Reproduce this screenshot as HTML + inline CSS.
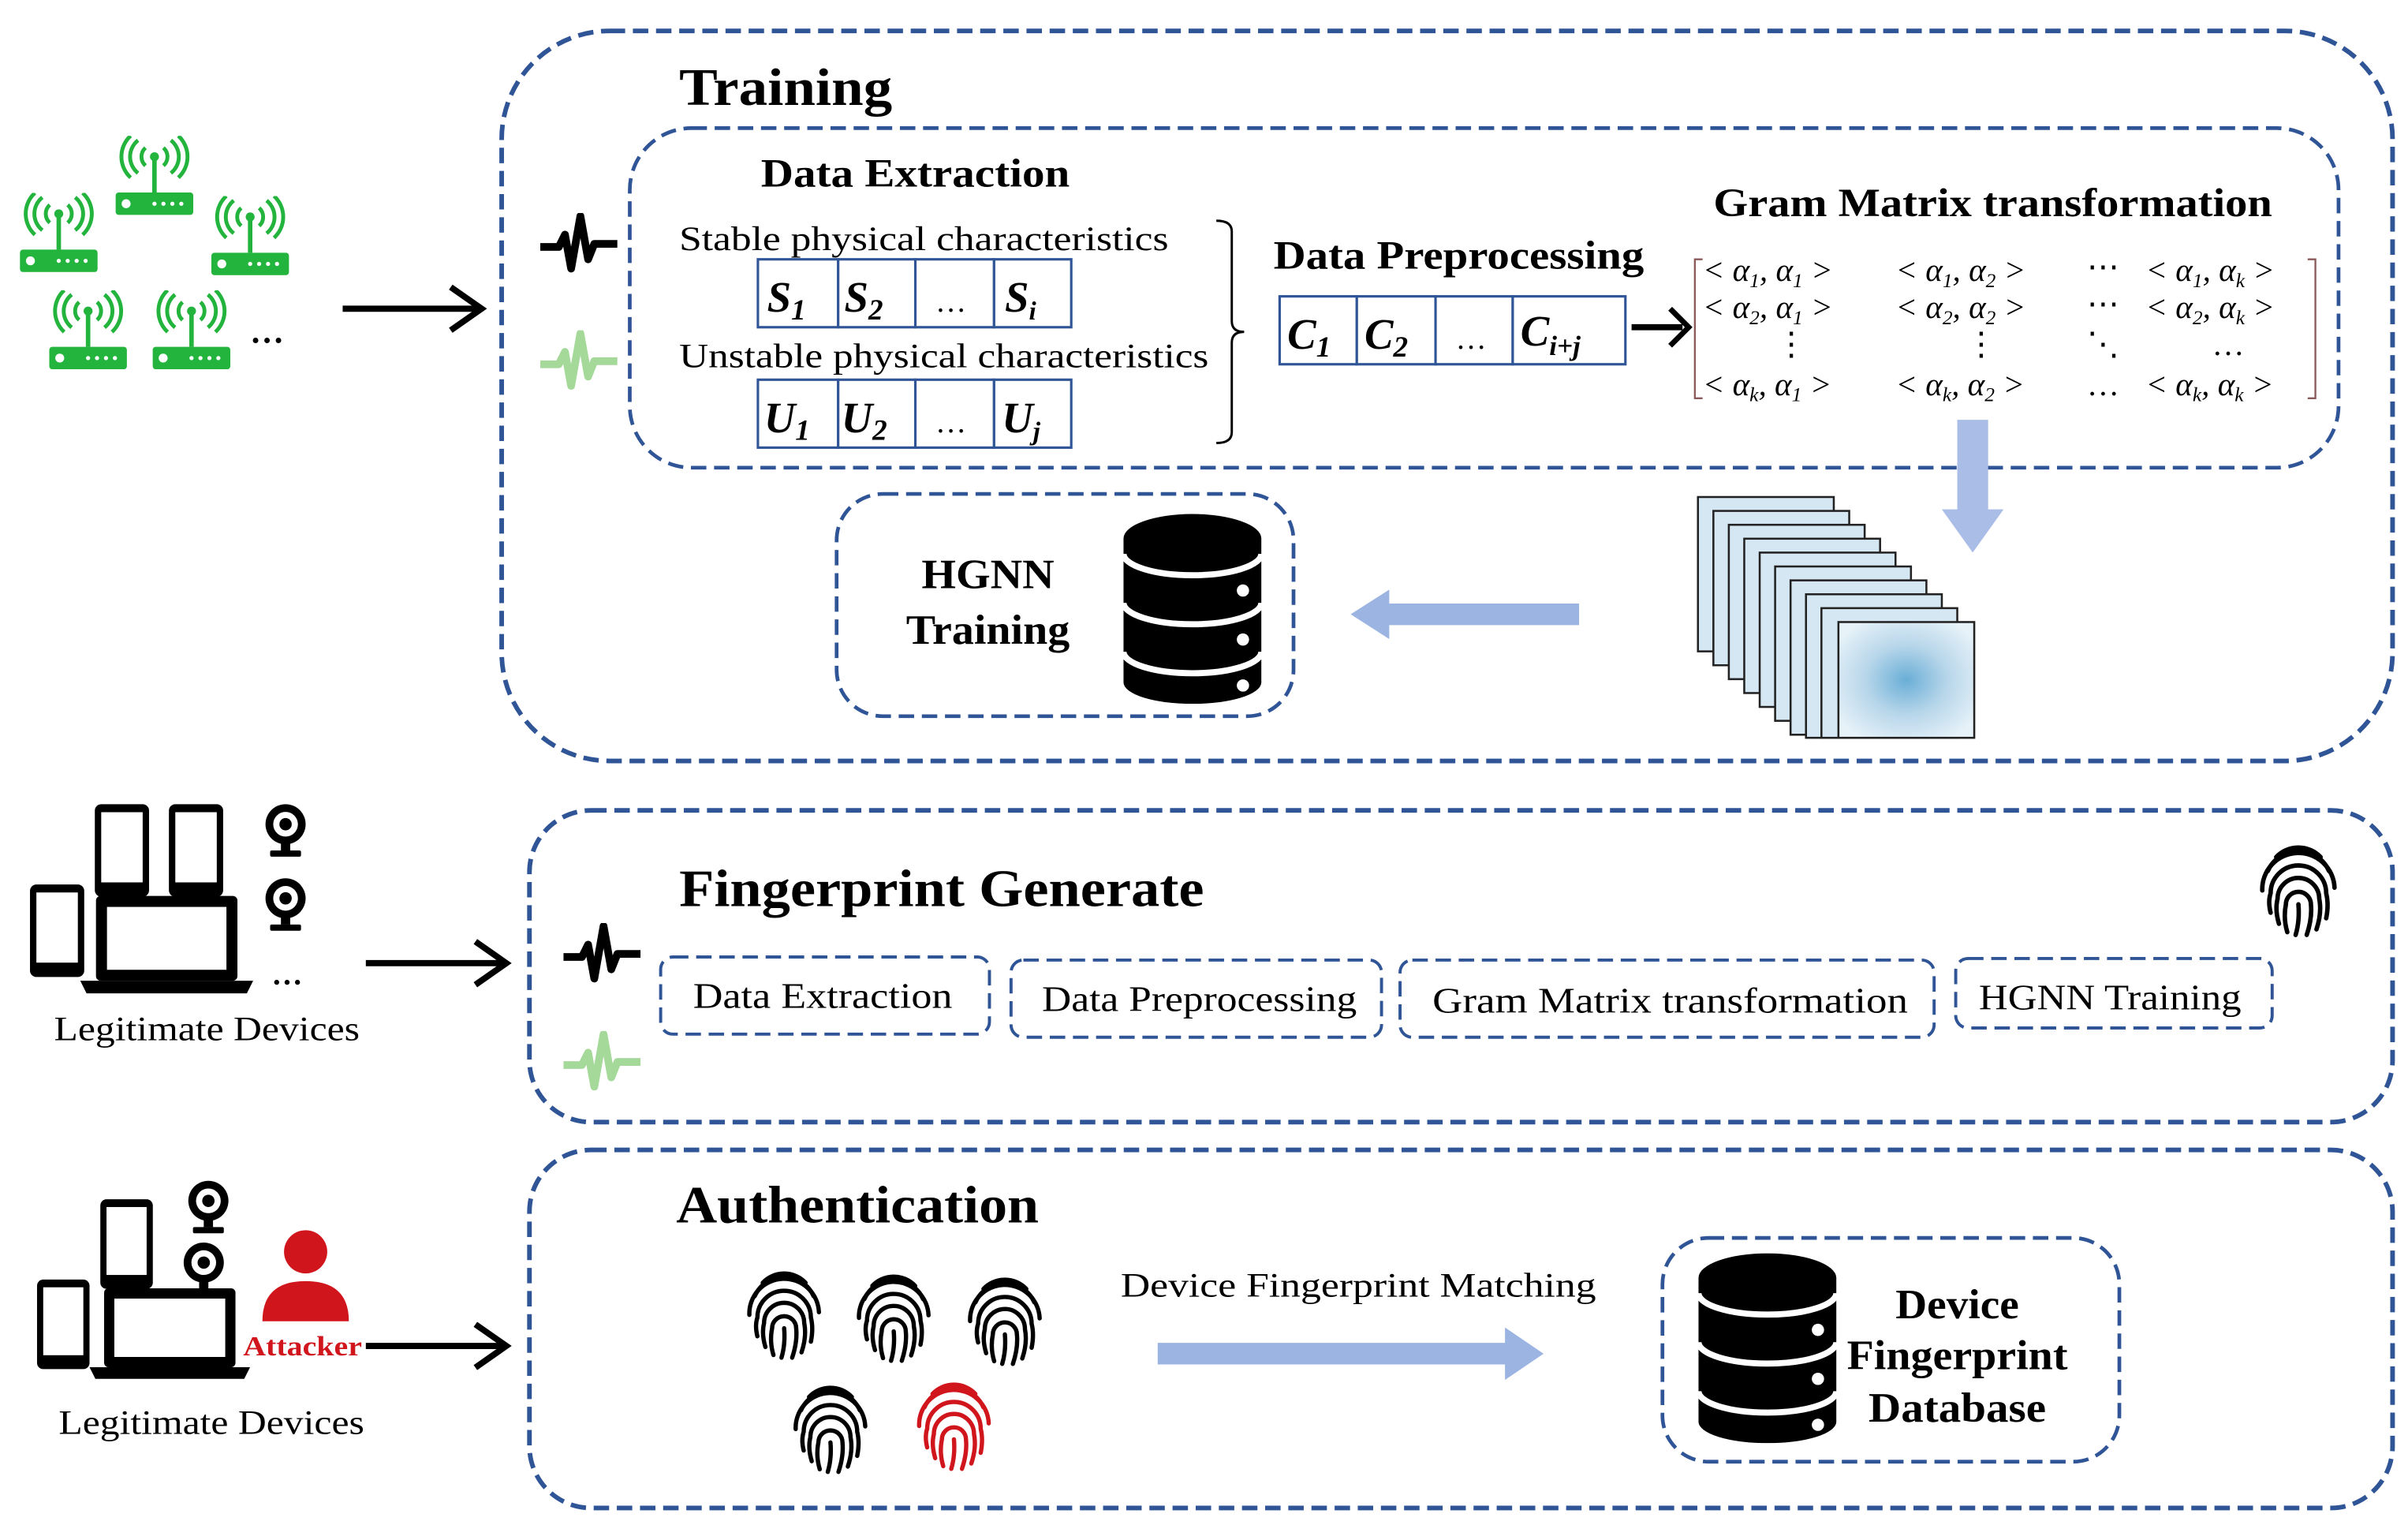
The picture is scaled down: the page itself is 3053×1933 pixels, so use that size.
<!DOCTYPE html>
<html><head><meta charset="utf-8"><style>
html,body{margin:0;padding:0;background:#fff}
svg{display:block}
text{font-family:"Liberation Serif",serif;fill:#000}
.b{font-weight:bold}
.box{fill:none;stroke:#2f5597;stroke-dasharray:10 5}
.cell{fill:#fff;stroke:#2f5597;stroke-width:1.6}
.it{font-style:italic;font-weight:bold}
</style></head><body>
<svg width="3053" height="1933" viewBox="0 0 1560 988" preserveAspectRatio="none" xmlns="http://www.w3.org/2000/svg">
<defs>
<symbol id="router" viewBox="0 0 60 60">
  <rect x="2" y="38" width="52" height="15" rx="2" fill="#22b43c"/>
  <circle cx="9" cy="45.5" r="3" fill="#fff"/>
  <circle cx="28" cy="45.5" r="1.4" fill="#fff"/><circle cx="34" cy="45.5" r="1.4" fill="#fff"/><circle cx="40" cy="45.5" r="1.4" fill="#fff"/><circle cx="46" cy="45.5" r="1.4" fill="#fff"/>
  <line x1="28" y1="16" x2="28" y2="38" stroke="#22b43c" stroke-width="3"/>
  <circle cx="28" cy="14" r="3" fill="#22b43c"/>
  <g fill="none" stroke="#22b43c" stroke-width="2.6">
   <path d="M22 8 A8 8 0 0 0 22 20"/><path d="M34 8 A8 8 0 0 1 34 20"/>
   <path d="M17 3 A14 14 0 0 0 17 25"/><path d="M39 3 A14 14 0 0 1 39 25"/>
   <path d="M12 0 A19 19 0 0 0 12 28"/><path d="M44 0 A19 19 0 0 1 44 28"/>
  </g>
</symbol>
<symbol id="db" viewBox="0 0 90 124">
  <ellipse cx="45" cy="16" rx="45" ry="16" fill="#000"/>
  <rect x="0" y="16" width="90" height="94" fill="#000"/>
  <ellipse cx="45" cy="110" rx="45" ry="14" fill="#000"/>
  <path d="M0 26 A45 14 0 0 0 90 26" fill="none" stroke="#fff" stroke-width="4"/>
  <path d="M0 58 A45 14 0 0 0 90 58" fill="none" stroke="#fff" stroke-width="4"/>
  <path d="M0 90 A45 14 0 0 0 90 90" fill="none" stroke="#fff" stroke-width="4"/>
  <circle cx="78" cy="50" r="4" fill="#fff"/><circle cx="78" cy="82" r="4" fill="#fff"/><circle cx="78" cy="112" r="4" fill="#fff"/>
</symbol>
<symbol id="fp" viewBox="0 0 60 70">
  <g fill="none" stroke-width="3.2" stroke-linecap="round">
   <path d="M8 22 A24 24 0 0 1 52 22"/>
   <path d="M4 36 A26 26 0 0 1 56 34"/>
   <path d="M10 52 Q8 44 10 38 A20 20 0 0 1 50 38 Q52 46 50 56"/>
   <path d="M16 60 Q13 50 15 42 A15 15 0 0 1 45 42 Q47 52 43 64"/>
   <path d="M22 66 Q19 56 21 46 A9 9 0 0 1 39 46 Q40 56 36 68"/>
   <path d="M30 46 Q31 58 28 68"/>
   <path d="M14 12 A22 22 0 0 1 46 12"/>
  </g>
</symbol>
<symbol id="wave" viewBox="0 0 50 40">
  <path d="M0 22 L12 22 L16 14 L20 36 L26 2 L31 30 L35 20 L50 20" fill="none" stroke-width="5" stroke-linejoin="round"/>
</symbol>
<symbol id="tablet" viewBox="0 0 36 60">
  <rect x="1" y="1" width="34" height="58" rx="4" fill="#000"/>
  <rect x="5" y="6" width="26" height="44" fill="#fff"/>
</symbol>
<symbol id="laptop" viewBox="0 0 110 62">
  <rect x="10" y="0" width="90" height="54" rx="3" fill="#000"/>
  <rect x="17" y="7" width="76" height="40" fill="#fff"/>
  <path d="M0 54 L110 54 L106 62 L4 62 Z" fill="#000"/>
</symbol>
<symbol id="cam" viewBox="0 0 30 36">
  <circle cx="15" cy="14" r="13" fill="#000"/><circle cx="15" cy="14" r="8" fill="#fff"/><circle cx="15" cy="14" r="4" fill="#000"/>
  <rect x="12" y="26" width="6" height="5" fill="#000"/><rect x="5" y="31" width="20" height="4" rx="1" fill="#000"/>
</symbol>
<radialGradient id="hm" cx="50%" cy="50%" r="60%">
  <stop offset="0" stop-color="#6aaed6"/><stop offset="0.5" stop-color="#b7d6ea"/><stop offset="1" stop-color="#e6f1f8"/>
</radialGradient>
</defs>

<!-- ================= TRAINING ================= -->
<rect class="box" x="325" y="20" width="1225" height="473" rx="70" stroke-width="3"/>
<text class="b" x="440" y="68" font-size="34" textLength="138" lengthAdjust="spacingAndGlyphs">Training</text>
<rect class="box" x="408" y="83" width="1107" height="220" rx="40" stroke-width="2.4" stroke-dasharray="8 4"/>
<text class="b" x="493" y="121" font-size="26" textLength="200" lengthAdjust="spacingAndGlyphs">Data Extraction</text>
<text x="440" y="162" font-size="22" textLength="317" lengthAdjust="spacingAndGlyphs">Stable physical characteristics</text>
<g>
 <rect class="cell" x="491" y="168" width="52" height="44"/><rect class="cell" x="543" y="168" width="50" height="44"/><rect class="cell" x="593" y="168" width="51" height="44"/><rect class="cell" x="644" y="168" width="50" height="44"/>
 <text class="it" x="497" y="202" font-size="28">S<tspan font-size="19" dy="5">1</tspan></text>
 <text class="it" x="547" y="202" font-size="28">S<tspan font-size="19" dy="5">2</tspan></text>
 <text x="606" y="202" font-size="20">…</text>
 <text class="it" x="651" y="202" font-size="28">S<tspan font-size="17" dy="5">i</tspan></text>
</g>
<text x="440" y="238" font-size="22" textLength="343" lengthAdjust="spacingAndGlyphs">Unstable physical characteristics</text>
<g>
 <rect class="cell" x="491" y="246" width="52" height="44"/><rect class="cell" x="543" y="246" width="50" height="44"/><rect class="cell" x="593" y="246" width="51" height="44"/><rect class="cell" x="644" y="246" width="50" height="44"/>
 <text class="it" x="495" y="280" font-size="28">U<tspan font-size="19" dy="5">1</tspan></text>
 <text class="it" x="545" y="280" font-size="28">U<tspan font-size="19" dy="5">2</tspan></text>
 <text x="606" y="280" font-size="20">…</text>
 <text class="it" x="649" y="280" font-size="28">U<tspan font-size="17" dy="5">j</tspan></text>
</g>
<path d="M788 143 Q798 143 798 150 L798 208 Q798 215 806 215 Q798 215 798 222 L798 280 Q798 287 788 287" fill="none" stroke="#000" stroke-width="1.5"/>
<text class="b" x="825" y="174" font-size="26" textLength="240" lengthAdjust="spacingAndGlyphs">Data Preprocessing</text>
<g>
 <rect class="cell" x="829" y="192" width="50" height="44"/><rect class="cell" x="879" y="192" width="51" height="44"/><rect class="cell" x="930" y="192" width="50" height="44"/><rect class="cell" x="980" y="192" width="73" height="44"/>
 <text class="it" x="834" y="226" font-size="28">C<tspan font-size="19" dy="5">1</tspan></text>
 <text class="it" x="884" y="226" font-size="28">C<tspan font-size="19" dy="5">2</tspan></text>
 <text x="943" y="226" font-size="20">…</text>
 <text class="it" x="985" y="224" font-size="28">C<tspan font-size="18" dy="6">i+j</tspan></text>
</g>
<line x1="1057" y1="212" x2="1090" y2="212" stroke="#000" stroke-width="4"/>
<path d="M1082 200 L1094 212 L1082 224" fill="none" stroke="#000" stroke-width="3.5"/>
<text class="b" x="1110" y="140" font-size="26" textLength="362" lengthAdjust="spacingAndGlyphs">Gram Matrix transformation</text>
<path d="M1103 168 L1098 168 L1098 258 L1103 258 M1495 168 L1500 168 L1500 258 L1495 258" fill="none" stroke="#8c5a5a" stroke-width="1.2"/>
<g font-size="21" font-style="italic">
 <text x="1103" y="182">&lt; α<tspan font-size="13" dy="4">1</tspan><tspan dy="-4">, α</tspan><tspan font-size="13" dy="4">1</tspan><tspan dy="-4"> &gt;</tspan></text>
 <text x="1228" y="182">&lt; α<tspan font-size="13" dy="4">1</tspan><tspan dy="-4">, α</tspan><tspan font-size="13" dy="4">2</tspan><tspan dy="-4"> &gt;</tspan></text>
 <text x="1352" y="180" font-style="normal">⋯</text>
 <text x="1390" y="182">&lt; α<tspan font-size="13" dy="4">1</tspan><tspan dy="-4">, α</tspan><tspan font-size="13" dy="4">k</tspan><tspan dy="-4"> &gt;</tspan></text>
 <text x="1103" y="206">&lt; α<tspan font-size="13" dy="4">2</tspan><tspan dy="-4">, α</tspan><tspan font-size="13" dy="4">1</tspan><tspan dy="-4"> &gt;</tspan></text>
 <text x="1228" y="206">&lt; α<tspan font-size="13" dy="4">2</tspan><tspan dy="-4">, α</tspan><tspan font-size="13" dy="4">2</tspan><tspan dy="-4"> &gt;</tspan></text>
 <text x="1352" y="204" font-style="normal">⋯</text>
 <text x="1390" y="206">&lt; α<tspan font-size="13" dy="4">2</tspan><tspan dy="-4">, α</tspan><tspan font-size="13" dy="4">k</tspan><tspan dy="-4"> &gt;</tspan></text>
 <text x="1150" y="230" font-style="normal">⋮</text><text x="1273" y="230" font-style="normal">⋮</text><text x="1352" y="230" font-style="normal">⋱</text><text x="1433" y="230" font-style="normal">…</text>
 <text x="1103" y="256">&lt; α<tspan font-size="13" dy="4">k</tspan><tspan dy="-4">, α</tspan><tspan font-size="13" dy="4">1</tspan><tspan dy="-4"> &gt;</tspan></text>
 <text x="1228" y="256">&lt; α<tspan font-size="13" dy="4">k</tspan><tspan dy="-4">, α</tspan><tspan font-size="13" dy="4">2</tspan><tspan dy="-4"> &gt;</tspan></text>
 <text x="1352" y="256" font-style="normal">…</text>
 <text x="1390" y="256">&lt; α<tspan font-size="13" dy="4">k</tspan><tspan dy="-4">, α</tspan><tspan font-size="13" dy="4">k</tspan><tspan dy="-4"> &gt;</tspan></text>
</g>
<!-- down arrow -->
<path d="M1268 272 L1288 272 L1288 330 L1298 330 L1278 358 L1258 330 L1268 330 Z" fill="#a9bde6"/>
<!-- image stack -->
<g stroke="#222" stroke-width="1.3">
 <rect x="1100" y="322" width="88" height="100" fill="#d6e7f4"/>
 <rect x="1110" y="331" width="88" height="100" fill="#d6e7f4"/>
 <rect x="1120" y="340" width="88" height="100" fill="#d6e7f4"/>
 <rect x="1130" y="349" width="88" height="100" fill="#d6e7f4"/>
 <rect x="1140" y="358" width="88" height="100" fill="#d6e7f4"/>
 <rect x="1150" y="367" width="88" height="100" fill="#d6e7f4"/>
 <rect x="1160" y="376" width="88" height="100" fill="#d6e7f4"/>
 <rect x="1170" y="385" width="88" height="93" fill="#d6e7f4"/>
 <rect x="1180" y="394" width="88" height="84" fill="#d6e7f4"/>
 <rect x="1191" y="403" width="88" height="75" fill="url(#hm)"/>
</g>
<!-- left arrow -->
<path d="M1023 391 L900 391 L900 382 L875 398 L900 414 L900 405 L1023 405 Z" fill="#9cb4e2"/>
<rect class="box" x="542" y="320" width="296" height="144" rx="30" stroke-width="2.4" stroke-dasharray="8 4"/>
<text class="b" x="640" y="381" font-size="27" text-anchor="middle" textLength="86" lengthAdjust="spacingAndGlyphs">HGNN</text>
<text class="b" x="640" y="417" font-size="27" text-anchor="middle" textLength="106" lengthAdjust="spacingAndGlyphs">Training</text>
<use href="#db" x="727" y="333" width="91" height="123"/>
<!-- waves -->
<use href="#wave" x="350" y="138" width="50" height="40" stroke="#000"/>
<use href="#wave" x="350" y="214" width="50" height="40" stroke="#a5d99a"/>
<!-- routers -->
<use href="#router" x="73" y="88" width="58" height="58"/>
<use href="#router" x="11" y="125" width="58" height="58"/>
<use href="#router" x="135" y="127" width="58" height="58"/>
<use href="#router" x="30" y="188" width="58" height="58"/>
<use href="#router" x="97" y="188" width="58" height="58"/>
<text class="b" x="162" y="222" font-size="22">…</text>
<line x1="222" y1="200" x2="310" y2="200" stroke="#000" stroke-width="4"/>
<path d="M292 186 L312 200 L292 214" fill="none" stroke="#000" stroke-width="4"/>

<!-- ================= FINGERPRINT GENERATE ================= -->
<rect class="box" x="343" y="525" width="1207" height="202" rx="40" stroke-width="3"/>
<text class="b" x="440" y="587" font-size="34" textLength="340" lengthAdjust="spacingAndGlyphs">Fingerprint Generate</text>
<use href="#fp" x="1462" y="543" width="54" height="66" stroke="#000"/>
<use href="#wave" x="365" y="598" width="50" height="40" stroke="#000"/>
<use href="#wave" x="365" y="668" width="50" height="40" stroke="#a5d99a"/>
<g stroke-width="2" stroke-dasharray="7 4">
 <rect class="box" x="428" y="620" width="213" height="50" rx="8"/>
 <rect class="box" x="655" y="622" width="240" height="50" rx="8"/>
 <rect class="box" x="907" y="622" width="346" height="50" rx="8"/>
 <rect class="box" x="1267" y="621" width="205" height="45" rx="8"/>
</g>
<g font-size="23" text-anchor="middle">
 <text x="533" y="653" textLength="168" lengthAdjust="spacingAndGlyphs">Data Extraction</text>
 <text x="777" y="655" textLength="204" lengthAdjust="spacingAndGlyphs">Data Preprocessing</text>
 <text x="1082" y="656" textLength="308" lengthAdjust="spacingAndGlyphs">Gram Matrix transformation</text>
 <text x="1367" y="654" textLength="170" lengthAdjust="spacingAndGlyphs">HGNN Training</text>
</g>
<!-- legit devices 1 -->
<use href="#tablet" x="60" y="520" width="38" height="62"/>
<use href="#tablet" x="108" y="520" width="38" height="62"/>
<use href="#tablet" x="18" y="572" width="38" height="62"/>
<use href="#laptop" x="52" y="580" width="112" height="64"/>
<use href="#cam" x="170" y="520" width="30" height="36"/>
<use href="#cam" x="170" y="568" width="30" height="36"/>
<text class="b" x="176" y="638" font-size="20">…</text>
<text x="134" y="674" font-size="22" text-anchor="middle" textLength="198" lengthAdjust="spacingAndGlyphs">Legitimate Devices</text>
<line x1="237" y1="624" x2="326" y2="624" stroke="#000" stroke-width="4"/>
<path d="M308 610 L328 624 L308 638" fill="none" stroke="#000" stroke-width="4"/>

<!-- ================= AUTHENTICATION ================= -->
<rect class="box" x="343" y="745" width="1207" height="232" rx="40" stroke-width="3"/>
<text class="b" x="438" y="792" font-size="34" textLength="235" lengthAdjust="spacingAndGlyphs">Authentication</text>
<use href="#fp" x="482" y="818" width="52" height="66" stroke="#000"/>
<use href="#fp" x="553" y="820" width="52" height="66" stroke="#000"/>
<use href="#fp" x="625" y="822" width="52" height="66" stroke="#000"/>
<use href="#fp" x="512" y="892" width="52" height="66" stroke="#000"/>
<use href="#fp" x="592" y="890" width="52" height="66" stroke="#d0161c"/>
<text x="726" y="840" font-size="22" textLength="308" lengthAdjust="spacingAndGlyphs">Device Fingerprint Matching</text>
<path d="M750 870 L975 870 L975 860 L1000 877 L975 894 L975 884 L750 884 Z" fill="#9cb4e2"/>
<rect class="box" x="1077" y="802" width="296" height="145" rx="30" stroke-width="2.4" stroke-dasharray="8 4"/>
<use href="#db" x="1100" y="812" width="90" height="123"/>
<g font-size="27" text-anchor="middle">
 <text class="b" x="1268" y="854" textLength="80" lengthAdjust="spacingAndGlyphs">Device</text>
 <text class="b" x="1268" y="887" textLength="143" lengthAdjust="spacingAndGlyphs">Fingerprint</text>
 <text class="b" x="1268" y="921" textLength="115" lengthAdjust="spacingAndGlyphs">Database</text>
</g>
<!-- legit devices 2 -->
<use href="#tablet" x="64" y="776" width="36" height="60"/>
<use href="#tablet" x="22" y="828" width="38" height="60"/>
<use href="#laptop" x="58" y="834" width="104" height="60"/>
<use href="#cam" x="120" y="764" width="30" height="36"/>
<use href="#cam" x="117" y="804" width="30" height="36"/>
<circle cx="198" cy="811" r="14" fill="#d0161c"/>
<path d="M170 856 Q170 830 198 830 Q226 830 226 856 Z" fill="#d0161c"/>
<text class="b" x="196" y="878" font-size="18" text-anchor="middle" style="fill:#d0161c" textLength="77" lengthAdjust="spacingAndGlyphs">Attacker</text>
<text x="137" y="929" font-size="22" text-anchor="middle" textLength="198" lengthAdjust="spacingAndGlyphs">Legitimate Devices</text>
<line x1="237" y1="872" x2="326" y2="872" stroke="#000" stroke-width="4"/>
<path d="M308 858 L328 872 L308 886" fill="none" stroke="#000" stroke-width="4"/>
</svg>
</body></html>
